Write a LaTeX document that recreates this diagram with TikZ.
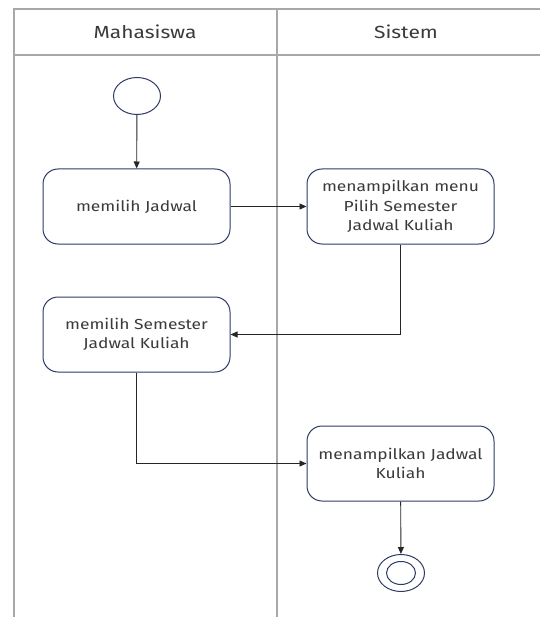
\documentclass[tikz,border=0pt]{standalone}
\usepackage{fontspec}
\setmainfont[FakeStretch=1.2]{Fira Sans}
\usetikzlibrary{arrows.meta,shapes.geometric}
\definecolor{lanegray}{HTML}{A8A8A8}
\definecolor{boxnavy}{HTML}{2F3A66}
\definecolor{txtgray}{HTML}{3A3A3A}
\begin{document}
\begin{tikzpicture}[x=1pt,y=-1pt,
  lane/.style={draw=lanegray,line width=1.6pt},
  action/.style={draw=boxnavy,line width=1pt,rounded corners=15pt,fill=white,
    minimum width=187pt,minimum height=75pt,align=center,text=txtgray,
    font=\fontsize{14.5}{19.5}\selectfont,inner sep=2pt},
  flow/.style={draw=black!85,line width=0.9pt,-{Triangle[length=7pt,width=6pt]}},
  lanetitle/.style={text=txtgray,font=\fontsize{17.5}{20}\selectfont}]
\useasboundingbox (0,0) rectangle (540,617);
% swimlane frame
\draw[lane] (540,9) -- (14,9) -- (14,617);
\draw[lane] (14,55) -- (540,55);
\draw[lane] (277,9) -- (277,617);
\node[lanetitle] (laneA) at (145,32) {Mahasiswa};
\node[lanetitle] (laneB) at (406,32) {Sistem};
% start and end
\node[draw=boxnavy,line width=1pt,ellipse,minimum width=47pt,minimum height=37pt,inner sep=0pt] (start) at (137,96) {};
\node[draw=boxnavy,line width=1pt,ellipse,minimum width=47pt,minimum height=37pt,inner sep=0pt] (stop) at (401,573) {};
\node[draw=boxnavy,line width=1pt,ellipse,minimum width=29pt,minimum height=23pt,inner sep=0pt] (stopin) at (401,573) {};
% actions
\node[action] (a1) at (136.5,206.5) {memilih Jadwal};
\node[action] (a2) at (400.5,206.5) {menampilkan menu\\Pilih Semester\\Jadwal Kuliah};
\node[action] (a3) at (136.5,334.5) {memilih Semester\\Jadwal Kuliah};
\node[action] (a4) at (400.5,463.5) {menampilkan Jadwal\\Kuliah};
% flows
\draw[flow] (start) -- (a1);
\draw[flow] (a1) -- (a2);
\draw[flow] (a2.south) |- (a3.east);
\draw[flow] (a3.south) |- (a4.west);
\draw[flow] (a4) -- (stop);
\end{tikzpicture}
\end{document}
